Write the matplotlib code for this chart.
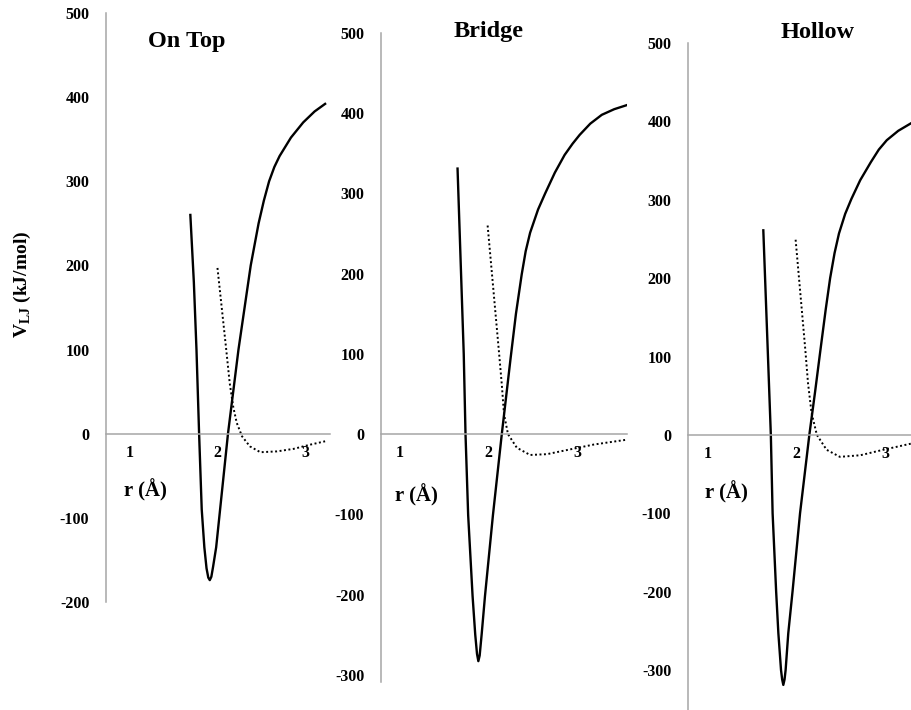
import matplotlib
matplotlib.use("Agg")
import matplotlib.pyplot as plt

plt.rcParams['font.family'] = ['Liberation Serif', 'DejaVu Serif']
plt.rcParams['font.weight'] = 'bold'
plt.rcParams['axes.unicode_minus'] = False
plt.rcParams['mathtext.fontset'] = 'custom'
plt.rcParams['mathtext.rm'] = 'Liberation Serif:bold'
plt.rcParams['mathtext.bf'] = 'Liberation Serif:bold'

W, H = 912, 710

# On Top
top_r = [1.69, 1.73, 1.76, 1.79, 1.82, 1.85, 1.875, 1.895, 1.912, 1.93, 1.95,
         1.985, 2.02, 2.07, 2.12, 2.18, 2.24, 2.31, 2.38, 2.47, 2.53, 2.59,
         2.65, 2.71, 2.84, 2.98, 3.11, 3.23]
top_v = [260, 180, 100, 0, -90, -135, -160, -171, -174, -170, -158,
         -135, -100, -50, 0, 50, 100, 150, 200, 250, 277, 300,
         317, 330, 352, 370, 383, 392]
top_rd = [2.00, 2.10, 2.14, 2.18, 2.22, 2.28, 2.37, 2.49, 2.68, 2.87, 3.06, 3.23]
top_vd = [197, 100, 60, 32, 13, -3, -15, -22, -21, -18, -13, -9]

# Bridge
bri_r = [1.65, 1.72, 1.74, 1.77, 1.82, 1.85, 1.87, 1.885, 1.90, 1.923, 1.96,
         2.05, 2.15, 2.25, 2.31, 2.375, 2.42, 2.47, 2.56, 2.64, 2.75, 2.86,
         2.95, 3.03, 3.15, 3.28, 3.42, 3.56]
bri_v = [331, 100, 0, -101, -202, -250, -274, -283, -276, -249, -202,
         -101, 0, 95, 150, 199, 228, 251, 280, 300, 326, 348,
         362, 373, 387, 398, 405, 410]
bri_rd = [1.99, 2.12, 2.15, 2.175, 2.22, 2.32, 2.47, 2.66, 2.88, 3.19, 3.56]
bri_vd = [260, 100, 62, 25, 0, -17, -26, -25, -20, -13, -7]

# Hollow
hol_r = [1.625, 1.675, 1.71, 1.73, 1.77, 1.795, 1.825, 1.838, 1.851, 1.865,
         1.877, 1.907, 1.955, 2.04, 2.145, 2.21, 2.27, 2.33, 2.38, 2.43, 2.48,
         2.55, 2.62, 2.72, 2.84, 2.93, 3.02, 3.15, 3.30]
hol_v = [261, 108, 0, -100, -200, -253, -300, -312, -319, -312,
         -300, -253, -200, -100, 0, 55, 108, 160, 200, 232, 257,
         282, 301, 325, 348, 364, 376, 388, 398]
hol_rd = [1.99, 2.10, 2.13, 2.17, 2.23, 2.34, 2.49, 2.72, 2.98, 3.30]
hol_vd = [249, 108, 66, 28, 0, -19, -28, -26, -19, -11]

titles = ['On Top', 'Bridge', 'Hollow']
xticks = [1, 2, 3]
yticks_list = [range(-200, 501, 100), range(-300, 501, 100), range(-300, 501, 100)]

# axes boxes in pixels: left, top, right, bottom
boxes = [(106, 13, 330, 602), (381, 33, 627, 682), (688, 43, 912, 710)]
xlims = [(0.726, 3.286), (0.785, 3.565), (0.774, 3.305)]
ylims = [(-200, 500), (-309, 500), (-351, 500)]
title_pos = [(187, 41), (489, 31), (818, 33)]
rlab_pos = [(145, 490), (416, 495), (726, 492)]

curves = [(top_r, top_v, top_rd, top_vd),
          (bri_r, bri_v, bri_rd, bri_vd),
          (hol_r, hol_v, hol_rd, hol_vd)]

fig = plt.figure(figsize=(W / 100, H / 100), dpi=100)
gray = '#a6a6a6'

for i in range(3):
    l, t, r, b = boxes[i]
    ax = fig.add_axes([l / W, 1 - b / H, (r - l) / W, (b - t) / H])
    ax.patch.set_alpha(0)
    rs, vs, rd, vd = curves[i]
    ax.plot(rs, vs, color='black', lw=1.7, solid_joinstyle='round')
    ax.plot(rd, vd, color='black', lw=1.4, ls=(0, (1, 1.3)))
    ax.set_xlim(*xlims[i])
    ax.set_ylim(*ylims[i])
    for s in ['top', 'right']:
        ax.spines[s].set_visible(False)
    ax.spines['bottom'].set_position(('data', 0))
    ax.spines['left'].set_color(gray)
    ax.spines['bottom'].set_color(gray)
    ax.spines['left'].set_linewidth(1.1)
    ax.spines['bottom'].set_linewidth(1.1)
    ax.set_xticks(xticks)
    ax.set_yticks(list(yticks_list[i]))
    ax.tick_params(axis='x', length=0, pad=8, labelsize=11.5)
    ax.tick_params(axis='y', length=0, pad=12, labelsize=11.5)
    for lab in ax.get_xticklabels() + ax.get_yticklabels():
        lab.set_fontweight('bold')
    tx, ty = title_pos[i]
    fig.text(tx / W, 1 - ty / H, titles[i], ha='center', va='center',
             fontsize=17.5, fontweight='bold')
    rx, ry = rlab_pos[i]
    fig.text(rx / W, 1 - ry / H, 'r (Å)', ha='center', va='center',
             fontsize=15, fontweight='bold')

fig.text(22 / W, 1 - 284 / H, r'V$_{\mathrm{LJ}}$ (kJ/mol)', rotation=90,
         ha='center', va='center', fontsize=14, fontweight='bold')

fig.savefig('out.png', dpi=100)
